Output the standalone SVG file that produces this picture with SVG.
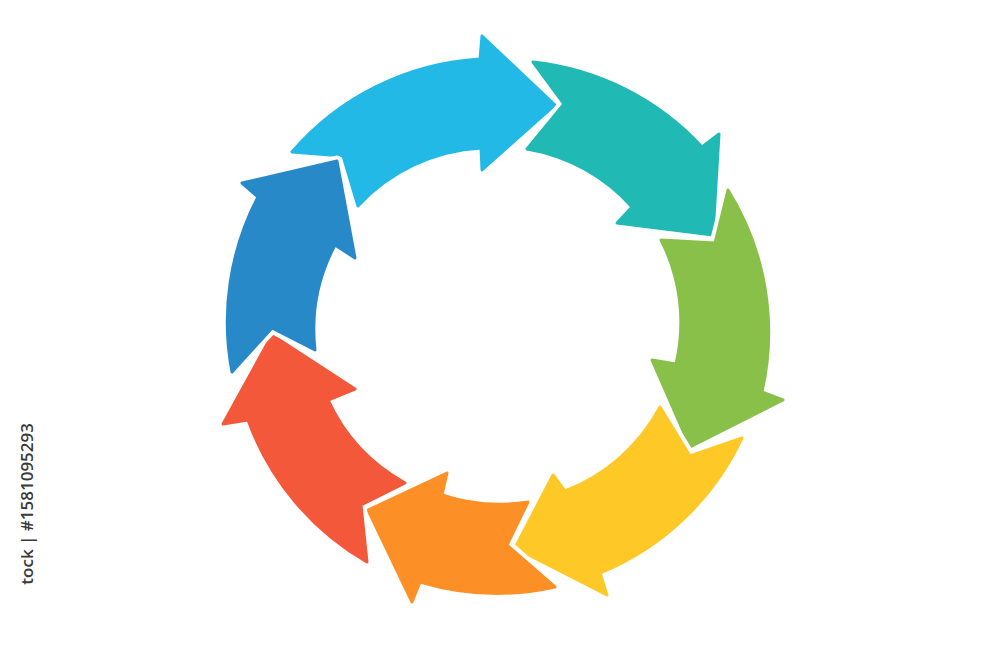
<svg xmlns="http://www.w3.org/2000/svg" width="1000" height="667" viewBox="0 0 1000 667">
  <style>
    .halo { fill: #FFFFFF; stroke: #FFFFFF; stroke-width: 11; stroke-linejoin: round; }
    .arrow { stroke-width: 3; stroke-linejoin: round; }
    .cyan { fill: #22B9E6; stroke: #22B9E6; }
    .teal { fill: #20B9B3; stroke: #20B9B3; }
    .green { fill: #89C04A; stroke: #89C04A; }
    .yellow { fill: #FEC927; stroke: #FEC927; }
    .orange { fill: #FC9026; stroke: #FC9026; }
    .red { fill: #F4583A; stroke: #F4583A; }
    .blue { fill: #2889C9; stroke: #2889C9; }
    .wm { font-family: "Open Sans", "Liberation Sans", sans-serif; font-size: 17px; font-weight: 600; fill: #3a3a3a; }
  </style>
  <defs>
    <path id="p-cyan" d="M292,152 A269,269 0 0 1 480,59 L482,36 L555,105 L482,170 L481,148 A181,181 0 0 0 358,206 L343,156 Z"/>
    <path id="p-teal" d="M533,62 A269,269 0 0 1 702,147 L719,134 L713,235 L617,223 L632,207 A181,181 0 0 0 527,149 L564,104 Z"/>
    <path id="p-green" d="M728,190 A269,269 0 0 1 762,392 L783,400 L690,447 L652,360 L676,364 A181,181 0 0 0 661,240 L715,243 Z"/>
    <path id="p-yellow" d="M742,438 A269,269 0 0 1 600,573 L607,595 L515,548 L553,475 L565,491 A181,181 0 0 0 660,407 L690,456 Z"/>
    <path id="p-orange" d="M555,587 A269,269 0 0 1 420,582 L412,602 L368,510 L447,473 L442,495 A181,181 0 0 0 528,502 L507,545 Z"/>
    <path id="p-red" d="M367,562 A269,269 0 0 1 248,420 L223,424 L272,335 L355,389 L328,400 A181,181 0 0 0 405,483 L361,505 Z"/>
    <path id="p-blue" d="M232,372 A269,269 0 0 1 258,197 L242,183 L337,161 L355,258 L335,245 A181,181 0 0 0 315,350 L272,328 Z"/>
  </defs>
  <rect width="1000" height="667" fill="#FFFFFF"/>
  <g id="arrow-cyan">
    <use href="#p-cyan" class="halo"/>
    <use href="#p-cyan" class="arrow cyan"/>
  </g>
  <g id="arrow-teal">
    <use href="#p-teal" class="halo"/>
    <use href="#p-teal" class="arrow teal"/>
  </g>
  <g id="arrow-green">
    <use href="#p-green" class="halo"/>
    <use href="#p-green" class="arrow green"/>
  </g>
  <g id="arrow-yellow">
    <use href="#p-yellow" class="halo"/>
    <use href="#p-yellow" class="arrow yellow"/>
  </g>
  <g id="arrow-orange">
    <use href="#p-orange" class="halo"/>
    <use href="#p-orange" class="arrow orange"/>
  </g>
  <g id="arrow-red">
    <use href="#p-red" class="halo"/>
    <use href="#p-red" class="arrow red"/>
  </g>
  <g id="arrow-blue">
    <use href="#p-blue" class="halo"/>
    <use href="#p-blue" class="arrow blue"/>
  </g>
  <g id="connectors"></g>
  <text class="wm" transform="translate(33,423) rotate(-90)" text-anchor="end">tock | #1581095293</text>
</svg>
